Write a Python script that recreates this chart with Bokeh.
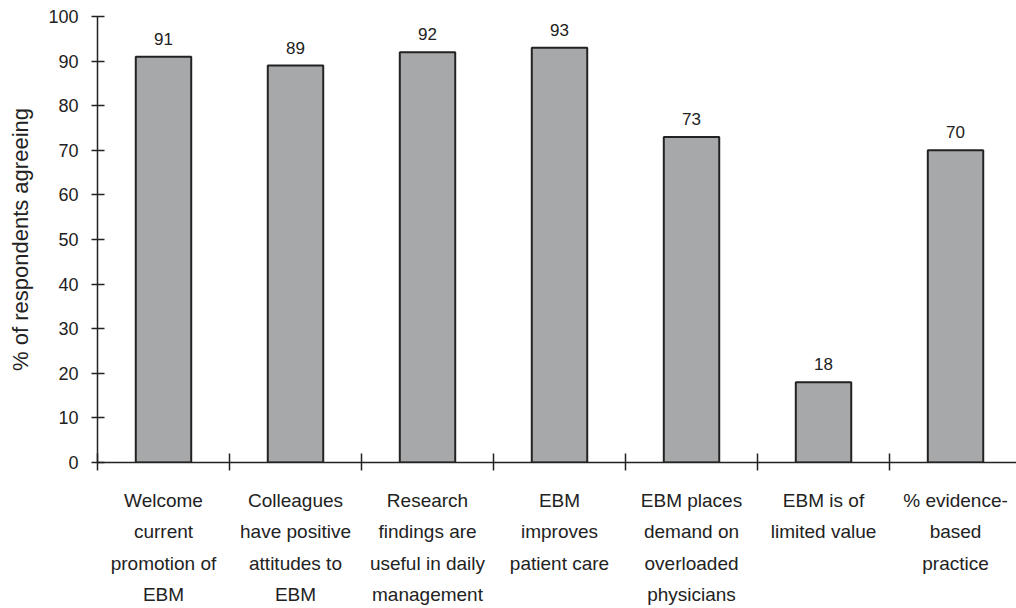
from bokeh.plotting import figure
from bokeh.models import ColumnDataSource, FixedTicker, LinearAxis, Range1d
from bokeh.embed import file_html
from bokeh.resources import INLINE

categories = [
    "Welcome\ncurrent\npromotion of\nEBM",
    "Colleagues\nhave positive\nattitudes to\nEBM",
    "Research\nfindings are\nuseful in daily\nmanagement",
    "EBM\nimproves\npatient care",
    "EBM places\ndemand on\noverloaded\nphysicians",
    "EBM is of\nlimited value",
    "% evidence-\nbased\npractice",
]
values = [91, 89, 92, 93, 73, 18, 70]
y_ticks = [0, 10, 20, 30, 40, 50, 60, 70, 80, 90, 100]

n = len(categories)
centers = [i + 0.5 for i in range(n)]
source = ColumnDataSource(dict(x=centers, top=values, label=[str(v) for v in values]))

FONT = "Liberation Sans"
INK = "#222222"

p = figure(width=1016, height=608, output_backend="svg", toolbar_location=None,
           x_range=Range1d(0, 6.962), y_range=Range1d(0, 100),
           min_border_left=97, min_border_right=0, min_border_top=16, min_border_bottom=145)
p.outline_line_color = None
p.grid.grid_line_color = None
p.background_fill_color = "white"
p.border_fill_color = "white"

p.vbar(x="x", top="top", bottom=0, width=0.42, source=source,
       fill_color="#a7a8aa", line_color=INK, line_width=2)
p.text(x="x", y="top", text="label", source=source, text_align="center",
       text_baseline="bottom", y_offset=-12, text_font_size="17px",
       text_font={"value": FONT}, text_color=INK)

# y axis
ya = p.yaxis[0]
ya.ticker = FixedTicker(ticks=y_ticks)
ya.minor_tick_line_color = None
ya.major_tick_in = 7
ya.major_tick_out = 6
ya.major_label_standoff = 13
ya.major_label_text_font = FONT
ya.major_label_text_font_size = "18px"
ya.major_label_text_color = INK
ya.axis_line_color = INK
ya.axis_line_width = 1.5
ya.major_tick_line_color = INK
ya.major_tick_line_width = 1.5
ya.axis_label = "% of respondents agreeing"
ya.axis_label_text_font = FONT
ya.axis_label_text_font_size = "22px"
ya.axis_label_text_font_style = "normal"
ya.axis_label_text_color = INK
ya.axis_label_standoff = 12

# x axis: separator ticks between categories
xa = p.xaxis[0]
xa.ticker = FixedTicker(ticks=list(range(n)))
xa.minor_tick_line_color = None
xa.major_tick_in = 9
xa.major_tick_out = 8
xa.major_label_text_font_size = "1px"
xa.major_label_text_alpha = 0
xa.major_label_standoff = 0
xa.axis_line_color = INK
xa.axis_line_width = 1.5
xa.major_tick_line_color = INK
xa.major_tick_line_width = 1.5

# category label axis
la = LinearAxis(ticker=FixedTicker(ticks=centers),
                major_label_overrides={c: lab for c, lab in zip(centers, categories)})
la.axis_line_color = None
la.major_tick_line_color = None
la.minor_tick_line_color = None
la.major_tick_out = 0
la.major_tick_in = 0
la.major_label_standoff = 19
la.major_label_text_font = FONT
la.major_label_text_font_size = "19px"
la.major_label_text_color = INK
la.major_label_text_line_height = 1.5
p.add_layout(la, "below")

open("out.html", "w").write(file_html(p, INLINE))
